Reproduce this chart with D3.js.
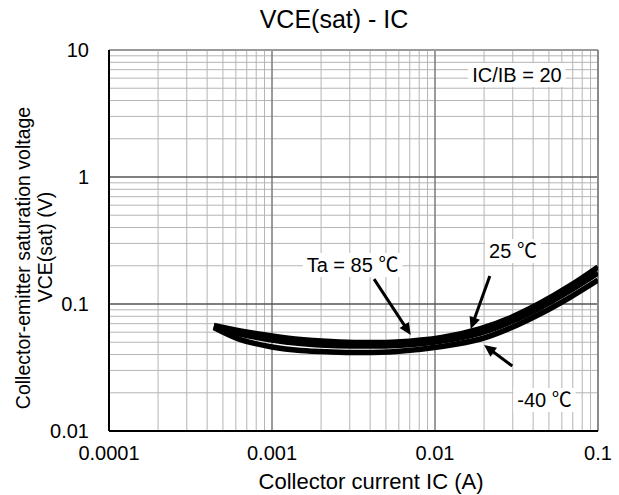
<!DOCTYPE html>
<html>
<head>
<meta charset="utf-8">
<script src="https://cdn.jsdelivr.net/npm/d3@7"></script>
<style>
  html, body { margin: 0; padding: 0; background: #fff; }
  svg text { font-family: Arial, "Liberation Sans", Arimo, "Noto Sans CJK JP", sans-serif; fill: #000; }
</style>
</head>
<body>
<div id="chart"></div>
<script>
// Collector current (A) and VCE(sat) (V), IC/IB = 20
const ic      = [0.00044, 0.00064, 0.001, 0.0015, 0.0023, 0.0035, 0.0058, 0.011, 0.019, 0.029, 0.044, 0.067, 0.1];
const vce85   = [0.0677, 0.0613, 0.0560, 0.0525, 0.0507, 0.0498, 0.0502, 0.0545, 0.0641, 0.0780, 0.1013, 0.1388, 0.1959];
const vce25   = [0.0665, 0.0580, 0.0521, 0.0489, 0.0471, 0.0467, 0.0471, 0.0511, 0.0591, 0.0721, 0.0930, 0.1266, 0.1754];
const vceM40  = [0.0653, 0.0525, 0.0459, 0.0430, 0.0419, 0.0415, 0.0423, 0.0463, 0.0530, 0.0647, 0.0834, 0.1125, 0.1545];

const xTicks = [0.0001, 0.001, 0.01, 0.1];
const xTickLabels = ["0.0001", "0.001", "0.01", "0.1"];
const yTicks = [0.01, 0.1, 1, 10];
const yTickLabels = ["0.01", "0.1", "1", "10"];

// annotation labels [x, y (baseline), text] and arrows [from, to] in data units
const labels = [
    [0.0318, 5.6, "IC/IB = 20"],
    [0.00312, 0.1786, "Ta = 85 ℃"],
    [0.0301, 0.230, "25 ℃"],
    [0.0470, 0.01545, "-40 ℃"]
];
const arrows = [
    [[0.00423, 0.157], [0.0071, 0.0570]],
    [[0.0217, 0.166], [0.01656, 0.0635]],
    [[0.0298, 0.0325], [0.0200, 0.0475]]
];

const W = 619, H = 495;
const margin = { top: 50, right: 21, bottom: 64, left: 109 };

const svg = d3.select("#chart").append("svg")
    .attr("width", W)
    .attr("height", H);

const x = d3.scaleLog().domain([1e-4, 0.1]).range([margin.left, W - margin.right]);
const y = d3.scaleLog().domain([0.01, 10]).range([H - margin.bottom, margin.top]);

const [x0, x1] = x.range();
const [y0, y1] = y.range(); // y0 bottom, y1 top

// grid
const grid = svg.append("g");
const minorX = [], minorY = [];
for (let e = -4; e < -1; e++) for (let k = 2; k <= 9; k++) minorX.push(k * Math.pow(10, e));
for (let e = -2; e < 1; e++) for (let k = 2; k <= 9; k++) minorY.push(k * Math.pow(10, e));

grid.selectAll(".mx").data(minorX).join("line")
    .attr("x1", d => x(d)).attr("x2", d => x(d))
    .attr("y1", y0).attr("y2", y1)
    .attr("stroke", "#b5b5b5").attr("stroke-width", 1);
grid.selectAll(".my").data(minorY).join("line")
    .attr("y1", d => y(d)).attr("y2", d => y(d))
    .attr("x1", x0).attr("x2", x1)
    .attr("stroke", "#b5b5b5").attr("stroke-width", 1);
grid.selectAll(".Mx").data(xTicks.slice(1, -1)).join("line")
    .attr("x1", d => x(d)).attr("x2", d => x(d))
    .attr("y1", y0).attr("y2", y1)
    .attr("stroke", "#7a7a7a").attr("stroke-width", 1.5);
grid.selectAll(".My").data(yTicks.slice(1, -1)).join("line")
    .attr("y1", d => y(d)).attr("y2", d => y(d))
    .attr("x1", x0).attr("x2", x1)
    .attr("stroke", "#555").attr("stroke-width", 1.5);

// frame
svg.append("line").attr("x1", x0).attr("x2", x1).attr("y1", y1).attr("y2", y1)
    .attr("stroke", "#9a9a9a").attr("stroke-width", 2);
svg.append("line").attr("x1", x1).attr("x2", x1).attr("y1", y0).attr("y2", y1)
    .attr("stroke", "#8a8a8a").attr("stroke-width", 2);
svg.append("line").attr("x1", x0).attr("x2", x1).attr("y1", y0).attr("y2", y0)
    .attr("stroke", "#000").attr("stroke-width", 2);
svg.append("line").attr("x1", x0).attr("x2", x0).attr("y1", y0).attr("y2", y1)
    .attr("stroke", "#000").attr("stroke-width", 2);

// curves
svg.append("defs").append("clipPath").attr("id", "plot-clip")
    .append("rect").attr("x", x0).attr("y", y1).attr("width", x1 - x0).attr("height", y0 - y1);

const line = d3.line()
    .x(d => x(d[0]))
    .y(d => y(d[1]))
    .curve(d3.curveCatmullRom.alpha(0.5));

const series = [vce85, vce25, vceM40];
svg.append("g").attr("clip-path", "url(#plot-clip)")
    .selectAll("path").data(series).join("path")
    .attr("d", s => line(ic.map((c, i) => [c, s[i]])))
    .attr("fill", "none")
    .attr("stroke", "#000")
    .attr("stroke-width", 5.5);

// annotation labels with white boxes
const lab = svg.append("g");
labels.forEach(([lx, ly, t]) => {
    const g = lab.append("g");
    const txt = g.append("text")
        .attr("x", x(lx)).attr("y", y(ly))
        .attr("text-anchor", "middle")
        .style("font-size", "20px")
        .text(t);
    const bb = txt.node().getBBox();
    g.insert("rect", "text")
        .attr("x", bb.x - 4).attr("y", bb.y - 1)
        .attr("width", bb.width + 8).attr("height", bb.height + 2)
        .attr("fill", "#fff");
});

// arrows
const arr = svg.append("g");
arrows.forEach(([from, to]) => {
    const ax = x(from[0]), ay = y(from[1]);
    const bx = x(to[0]), by = y(to[1]);
    const ang = Math.atan2(by - ay, bx - ax);
    const hl = 12, hw = 5.5;
    const cx = bx - hl * Math.cos(ang), cy = by - hl * Math.sin(ang);
    arr.append("line")
        .attr("x1", ax).attr("y1", ay).attr("x2", cx + 2 * Math.cos(ang)).attr("y2", cy + 2 * Math.sin(ang))
        .attr("stroke", "#000").attr("stroke-width", 3);
    const px = -Math.sin(ang), py = Math.cos(ang);
    arr.append("path")
        .attr("d", `M${bx},${by}L${cx + hw * px},${cy + hw * py}L${cx - hw * px},${cy - hw * py}Z`)
        .attr("fill", "#000");
});

// tick labels
svg.append("g").selectAll("text").data(xTicks).join("text")
    .attr("x", d => x(d)).attr("y", 460)
    .attr("text-anchor", "middle")
    .style("font-size", "20px")
    .text((d, i) => xTickLabels[i]);

svg.append("g").selectAll("text").data(yTicks).join("text")
    .attr("x", x0 - 20).attr("y", d => y(d))
    .attr("dy", "0.36em")
    .attr("text-anchor", "end")
    .style("font-size", "20px")
    .text((d, i) => yTickLabels[i]);

// titles
svg.append("text")
    .attr("x", 334).attr("y", 28)
    .attr("text-anchor", "middle")
    .style("font-size", "25px")
    .text("VCE(sat) - IC");

svg.append("text")
    .attr("x", 371).attr("y", 489)
    .attr("text-anchor", "middle")
    .style("font-size", "22px")
    .text("Collector current IC (A)");

const yl = svg.append("g").attr("transform", "rotate(-90)");
yl.append("text")
    .attr("x", -258).attr("y", 30)
    .attr("text-anchor", "middle")
    .style("font-size", "19.5px")
    .text("Collector-emitter saturation voltage");
yl.append("text")
    .attr("x", -247).attr("y", 52)
    .attr("text-anchor", "middle")
    .style("font-size", "19.5px")
    .text("VCE(sat) (V)");
</script>
</body>
</html>
